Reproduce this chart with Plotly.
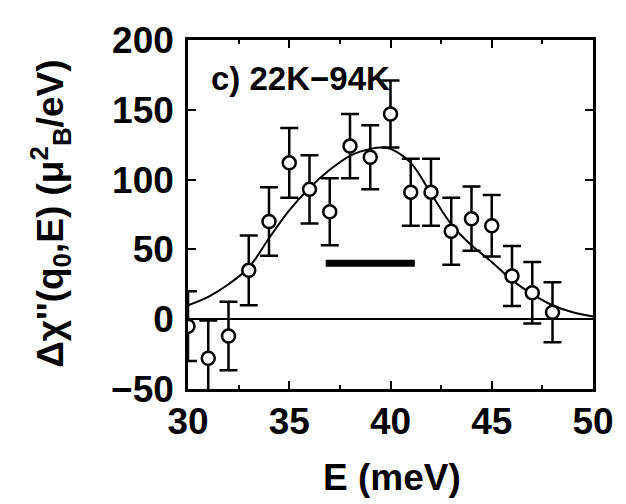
import plotly.graph_objects as go

# Data points
energy = [30, 31, 32, 33, 34, 35, 36, 37, 38, 39, 40, 41, 42, 43, 44, 45, 46, 47, 48]
delta_chi = [-5, -28, -12, 35, 70, 112, 93, 77, 124, 116, 147, 91, 91, 63, 72, 67, 31, 19, 5]
errors = [25, 27, 24.5, 25, 24.5, 25, 24.5, 24, 23, 23, 24, 24, 24, 24, 23, 22, 21.5, 22, 21.5]

# Fit curve
fit_e = [30, 31, 32, 33, 34, 35, 36, 37, 38, 39, 39.6, 40, 41, 42, 43, 44, 45, 46, 47, 48, 49, 50]
fit_v = [10, 16, 25, 37, 58, 78, 94, 107, 117, 122, 123, 122, 112, 90, 68, 53, 41, 28, 18, 10, 5, 2]

# Resolution bar
res_e = [36.8, 41.2]
res_v = [40, 40]

x_ticks = [30, 35, 40, 45, 50]
y_ticks = [-50, 0, 50, 100, 150, 200]
y_tick_text = ["\u221250", "0", "50", "100", "150", "200"]

FONT = "Liberation Sans, Arial, sans-serif"

fig = go.Figure()
fig.add_trace(go.Scatter(x=fit_e, y=fit_v, mode="lines",
                         line=dict(color="black", width=2, shape="spline"),
                         showlegend=False, hoverinfo="skip"))
fig.add_trace(go.Scatter(x=res_e, y=res_v, mode="lines",
                         line=dict(color="black", width=7),
                         showlegend=False, hoverinfo="skip"))
fig.add_trace(go.Scatter(x=energy, y=delta_chi, mode="markers",
                         marker=dict(symbol="circle", size=13, color="white",
                                     line=dict(color="black", width=2.5)),
                         error_y=dict(type="data", array=errors, visible=True,
                                      color="black", thickness=2.5, width=9),
                         showlegend=False))

# page body has an 8px margin, so the figure is 618x496 placed at (8, 8)
fig.update_layout(
    width=618, height=496,
    margin=dict(l=180, r=23, t=23, b=115),
    paper_bgcolor="white", plot_bgcolor="white",
    font=dict(family=FONT, size=37, color="black"),
    xaxis=dict(range=[30, 50], tickvals=x_ticks, ticktext=[str(v) for v in x_ticks],
               showline=True, linecolor="black", linewidth=2.5, mirror="allticks",
               ticks="inside", ticklen=8, tickwidth=2, tickcolor="black",
               minor=dict(dtick=2.5, ticks="inside", ticklen=4, tickwidth=2, tickcolor="black"),
               showgrid=False, zeroline=False, ticklabeloverflow="allow",
               ticklabelstandoff=-2,
               tickfont=dict(family=FONT, size=37, weight="bold")),
    yaxis=dict(range=[-50, 200], tickvals=y_ticks, ticktext=y_tick_text,
               showline=True, linecolor="black", linewidth=2.5, mirror="allticks",
               ticks="inside", ticklen=8, tickwidth=2, tickcolor="black",
               showgrid=False, zeroline=True, zerolinecolor="black", zerolinewidth=1.5,
               ticklabelstandoff=4, ticklabeloverflow="allow",
               tickfont=dict(family=FONT, size=37, weight="bold")),
)

fig.add_annotation(text="E (meV)", xref="paper", yref="paper",
                   x=0.504, y=-0.254, xanchor="center", yanchor="middle",
                   showarrow=False, font=dict(family=FONT, size=37, weight="bold"))
fig.add_annotation(text="\u0394\u03c7''(q<sub>0</sub>,E) (\u03bc<sup>2</sup><sub>B</sub>/eV)",
                   xref="paper", yref="paper",
                   x=(47 - 188) / 415, y=0.503, xanchor="center", yanchor="middle",
                   textangle=-90, showarrow=False,
                   font=dict(family=FONT, size=37, weight="bold"))
fig.add_annotation(text="c) 22K\u221294K", xref="paper", yref="paper",
                   x=(210 - 188) / 415, y=(389 - 71) / 358, xanchor="left", yanchor="middle",
                   showarrow=False, font=dict(family=FONT, size=33, weight="bold"))

fig.write_html("out.html")
